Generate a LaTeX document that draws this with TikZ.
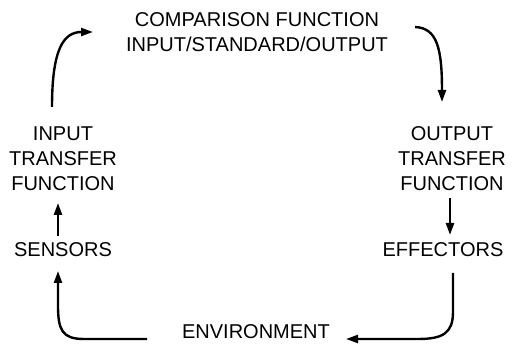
\documentclass[tikz,border=0pt]{standalone}
\usepackage{fontspec}
\setmainfont{Liberation Sans}
\usetikzlibrary{arrows.meta}
\begin{document}
\begin{tikzpicture}[x=1pt,y=-1pt,
  lbl/.style={inner sep=0pt,outer sep=0pt,align=center,
    font=\fontsize{20}{25}\selectfont},
  flow/.style={line width=2.4pt,-{Triangle[length=12pt,width=8pt]}}]
\useasboundingbox (0,0) rectangle (512,352);

% the six stages of the loop
\node[lbl] (comp) at (257,32.5) {COMPARISON FUNCTION\\INPUT/STANDARD/OUTPUT};
\node[lbl] (inT)  at (63,159)   {INPUT\\TRANSFER\\FUNCTION};
\node[lbl] (outT) at (452,159)  {OUTPUT\\TRANSFER\\FUNCTION};
\node[lbl] (sens) at (63,250)   {SENSORS};
\node[lbl] (eff)  at (443,250)  {EFFECTORS};
\node[lbl] (env)  at (256,332)  {ENVIRONMENT};

% end points of the curved connectors
\coordinate (a1) at (52,107);
\coordinate (a2) at (93,32);
\coordinate (b1) at (415,27);
\coordinate (b2) at (442,102);
\coordinate (c1) at (453,273);
\coordinate (c2) at (346,339);
\coordinate (d1) at (147,339);
\coordinate (d2) at (58,271);

% input transfer -> comparison
\draw[flow] (a1) .. controls (52,48) and (64,32) .. (a2);
% comparison -> output transfer
\draw[flow] (b1) .. controls (437,28) and (442,48) .. (b2);
% output transfer -> effectors
\draw[flow] ([xshift=-2pt,yshift=-7pt]outT.south) -- ([xshift=7pt,yshift=8pt]eff.north);
% effectors -> environment
\draw[flow] (c1) -- (453,312) .. controls (453,333) and (443,339) .. (418,339) -- (c2);
% environment -> sensors
\draw[flow] (d1) -- (84,339) .. controls (62,339) and (58,330) .. (58,305) -- (d2);
% sensors -> input transfer
\draw[flow] ([xshift=-5pt,yshift=7pt]sens.north) -- ([xshift=-5pt,yshift=-12pt]inT.south);
\end{tikzpicture}
\end{document}
